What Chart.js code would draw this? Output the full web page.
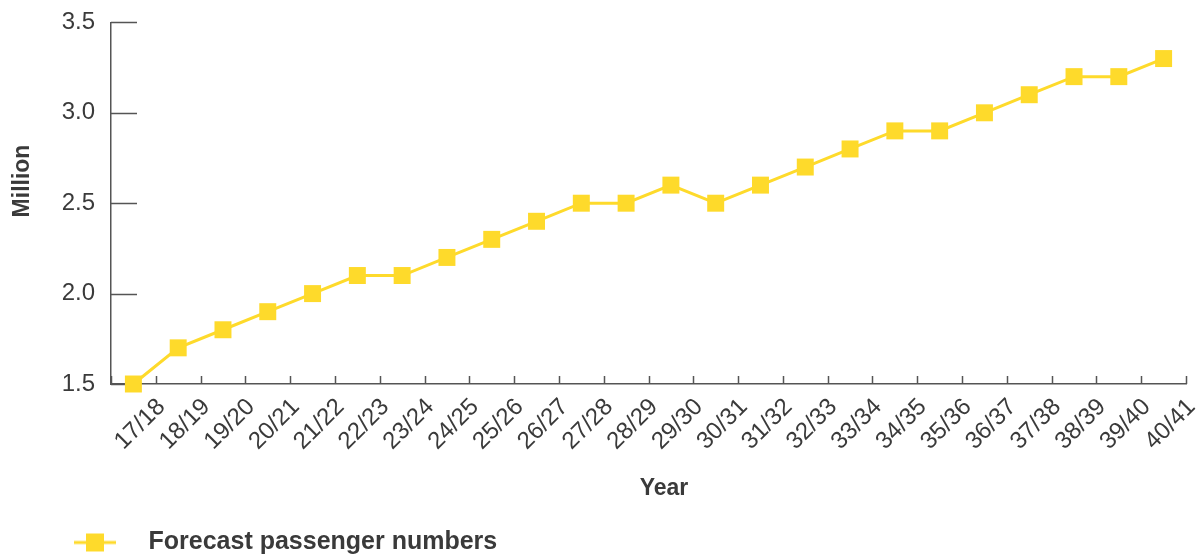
<!DOCTYPE html>
<html>
<head>
<meta charset="utf-8">
<title>Forecast passenger numbers</title>
<script src="https://cdn.jsdelivr.net/npm/chart.js@4.4.1/dist/chart.umd.min.js"></script>
<style>
  html, body { margin: 0; padding: 0; background: #ffffff; }
  canvas { display: block; }
</style>
</head>
<body>
<canvas id="chart" width="1198" height="556"></canvas>
<script>
// Financial years on the horizontal axis
const years = ['17/18', '18/19', '19/20', '20/21', '21/22', '22/23', '23/24', '24/25',
               '25/26', '26/27', '27/28', '28/29', '29/30', '30/31', '31/32', '32/33',
               '33/34', '34/35', '35/36', '36/37', '37/38', '38/39', '39/40', '40/41'];
// Forecast passengers per year, in millions
const passengers = [1.5, 1.7, 1.8, 1.9, 2.0, 2.1, 2.1, 2.2,
                    2.3, 2.4, 2.5, 2.5, 2.6, 2.5, 2.6, 2.7,
                    2.8, 2.9, 2.9, 3.0, 3.1, 3.2, 3.2, 3.3];
// Value axis tick labels
const yTicks = [1.5, 2.0, 2.5, 3.0, 3.5];
const seriesName = 'Forecast passenger numbers';
const xTitle = 'Year';
const yTitle = 'Million';

const YELLOW = '#FEDA2B';
const INK = '#3a3a3a';
const AXIS = '#555555';
const FONT = "'Liberation Sans', Arial, Helvetica, sans-serif";

// Legend swatch: a short line with a square marker on it
function legendSwatch() {
  const c = document.createElement('canvas');
  c.width = 136; c.height = 22;
  const g = c.getContext('2d');
  g.strokeStyle = YELLOW; g.lineWidth = 3;
  g.beginPath(); g.moveTo(74, 11); g.lineTo(116, 11); g.stroke();
  g.fillStyle = YELLOW;
  g.fillRect(86, 2, 18, 18);
  return c;
}

// Tick marks that point into the plot area
const innerTicks = {
  id: 'innerTicks',
  beforeDatasetsDraw(chart) {
    const { ctx, chartArea, scales: { x, y } } = chart;
    ctx.save();
    ctx.strokeStyle = AXIS;
    ctx.lineWidth = 1.5;
    ctx.beginPath();
    for (let i = 0; i <= years.length; i++) {
      const px = Math.round(x.getPixelForValue(i - 0.5)) + 0.5;
      ctx.moveTo(px, chartArea.bottom);
      ctx.lineTo(px, chartArea.bottom - 8);
    }
    y.ticks.forEach(t => {
      const py = Math.round(y.getPixelForValue(t.value)) + 0.5;
      ctx.moveTo(chartArea.left, py);
      ctx.lineTo(chartArea.left + 26, py);
    });
    ctx.stroke();
    ctx.restore();
  }
};

// Axis titles
const axisTitles = {
  id: 'axisTitles',
  afterDraw(chart) {
    const { ctx } = chart;
    ctx.save();
    ctx.fillStyle = INK;
    ctx.font = 'bold 23px ' + FONT;
    ctx.textAlign = 'center';
    ctx.textBaseline = 'middle';
    ctx.fillText(xTitle, 664, 489);
    ctx.translate(23, 181);
    ctx.rotate(-Math.PI / 2);
    ctx.fillText(yTitle, 0, 0);
    ctx.restore();
  }
};

new Chart(document.getElementById('chart'), {
  type: 'line',
  data: {
    labels: years,
    datasets: [{
      label: seriesName,
      data: passengers,
      borderColor: YELLOW,
      backgroundColor: YELLOW,
      borderWidth: 3,
      tension: 0,
      pointStyle: 'rect',
      pointRadius: 12,
      pointHoverRadius: 12,
      pointBorderWidth: 0,
      pointBackgroundColor: YELLOW,
      clip: false
    }]
  },
  options: {
    responsive: false,
    devicePixelRatio: 1,
    animation: false,
    events: [],
    layout: { padding: { top: 14, right: 11, left: 0, bottom: -9 } },
    scales: {
      x: {
        type: 'category',
        offset: true,
        grid: { display: false, offset: true },
        border: { display: true, color: AXIS, width: 1.5 },
        ticks: {
          color: INK,
          font: { family: FONT, size: 24 },
          minRotation: 45,
          maxRotation: 45,
          autoSkip: false,
          padding: 1,
          labelOffset: 28
        },
        afterFit(scale) { scale.height = 146; }
      },
      y: {
        min: 1.5,
        max: 3.5,
        grid: { display: false },
        border: { display: true, color: AXIS, width: 1.5 },
        ticks: {
          color: INK,
          font: { family: FONT, size: 24 },
          padding: 8,
          callback: v => Number(v).toFixed(1)
        },
        afterBuildTicks(scale) { scale.ticks = yTicks.map(v => ({ value: v })); },
        afterFit(scale) { scale.width = 111; }
      }
    },
    plugins: {
      tooltip: { enabled: false },
      legend: {
        position: 'bottom',
        align: 'start',
        labels: {
          color: INK,
          font: { family: FONT, size: 25, weight: 'bold' },
          usePointStyle: true,
          pointStyle: legendSwatch(),
          pointStyleWidth: 136,
          padding: 0
        }
      }
    }
  },
  plugins: [innerTicks, axisTitles]
});
</script>
</body>
</html>
